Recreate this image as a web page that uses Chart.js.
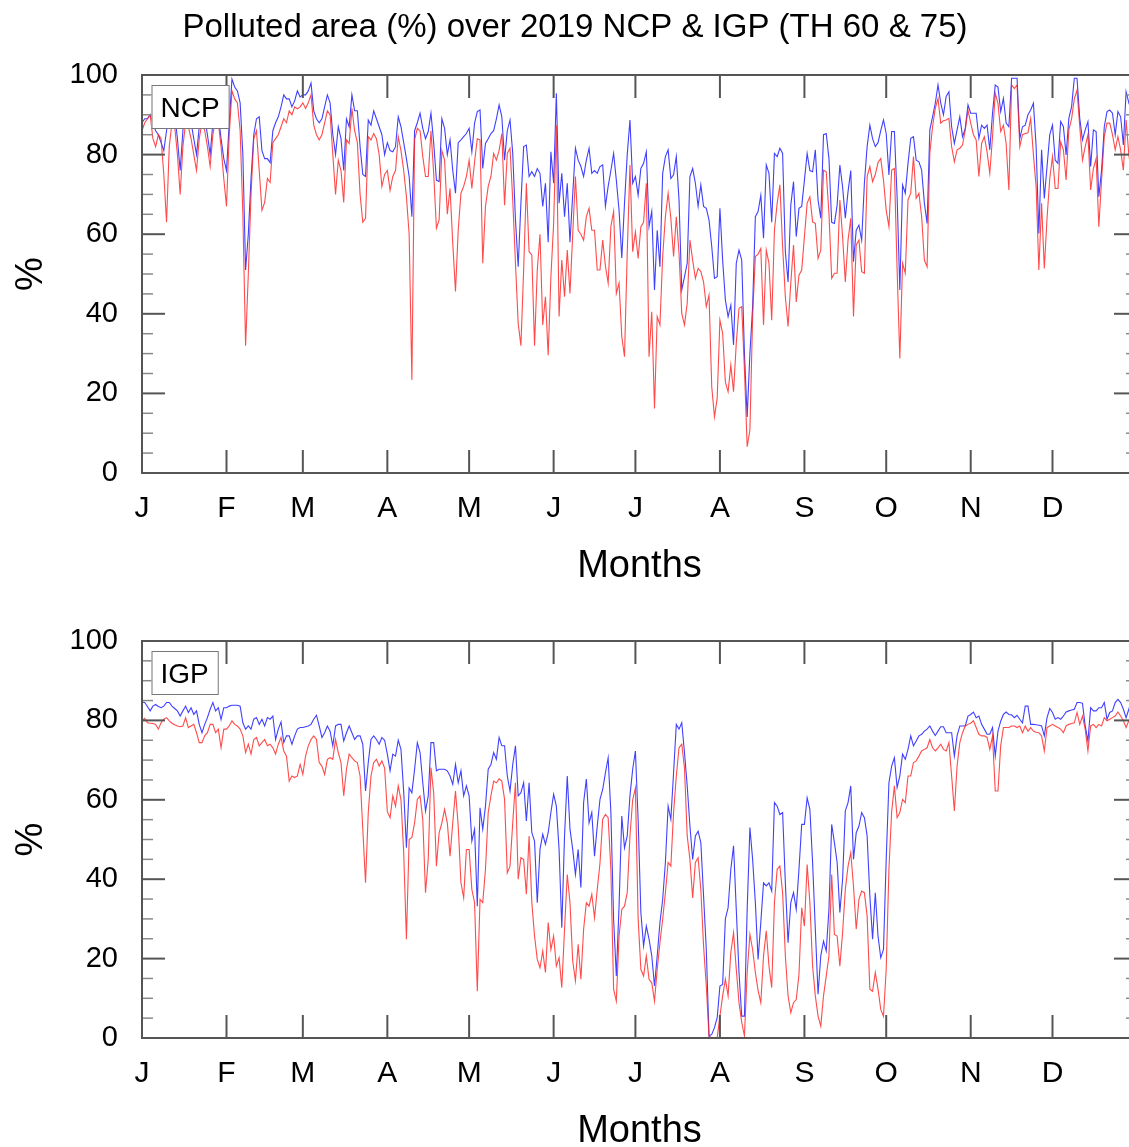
<!DOCTYPE html>
<html>
<head>
<meta charset="utf-8">
<title>Polluted area 2019 NCP & IGP</title>
<script src="https://cdn.jsdelivr.net/npm/chart.js@4.4.0/dist/chart.umd.min.js"></script>
<style>
  html, body { margin: 0; padding: 0; background: #fff; overflow: hidden; }
  #wrap { position: relative; width: 1129px; height: 1147px; overflow: hidden; }
  canvas { position: absolute; left: 0; }
  #ncpCanvas { top: 0; }
  #igpCanvas { top: 600px; }
</style>
</head>
<body>
<div id="wrap">
  <canvas id="ncpCanvas" width="1140" height="600"></canvas>
  <canvas id="igpCanvas" width="1140" height="547"></canvas>
</div>
<script>
// month ticks (day of year where each month starts) and their labels
const monthStarts = [0, 31, 59, 90, 120, 151, 181, 212, 243, 273, 304, 334];
const monthLabels = ['J', 'F', 'M', 'A', 'M', 'J', 'J', 'A', 'S', 'O', 'N', 'D'];
const yTicks = [0, 20, 40, 60, 80, 100];

// NCP, threshold 60 (blue), one value per day of 2019
const ncpTh60 = [
  88,89,89,90,88,86,85,83,81,86, 90,92,90,84,76,86,92,90,88,84,
  80,87,91,89,85,80,88,92,90,84, 79,76,88,99,97,96,93,80,51,60,
  74,85,89,89.5,81,79,79,78,86,88, 89.5,92,95,94,94,92,93.5,96,94.5,95,
  95,96,98,91,89,88,89,92,95,93, 85,80,87,84,76,89,87,95,91,91,
  82,75,74.5,88.7,87.4,91,89,87,85,80, 83,81,80.7,82,89.5,87,83,79,74.5,64.4,
  86,88,90.4,86.6,84,85.8,90.4,83,73.6,73.2, 89,86.6,80,83.7,76,70.3,83,83.7,84.5,85.3,
  86.6,80.7,87.9,90.8,91.2,76.5,82.8,84,85.3,86, 89,92.5,89.5,78.6,86,88.7,80.3,63.6,51.8,67.8,
  82,82.4,74.5,75.7,74.5,76.5,75.3,67,72.8,58, 80.7,72.8,95.4,67.8,75.3,64.4,72.8,58,70,81.6,
  78.6,77,74.5,78.6,81.6,75.3,76,75.3,77,77.4, 67,72,76,80.3,73.6,66,54,67.8,80,88.7,
  72.8,74.5,69.8,76.5,77.8,80.7,61.9,65.7,46,61, 51.8,75.3,79.5,81.2,74,74.9,79.5,68.6,46,49.3,
  52.7,74.5,76.5,72.8,67,72.4,67,66.5,63.6,56.9, 48.9,49.3,66.5,53.5,43.5,39.3,42.2,32.2,52.7,56,
  53.5,30,14.1,30,41.8,64.4,65.7,69.8,59,77.4, 75.3,63,80.3,79.5,81.6,80.3,55.6,48,67.3,73.2,
  59.4,66.5,67,73.6,80.3,76,75.7,81.2,68.6,64, 85,85.3,79,63,62.7,67.3,77.4,71.9,64,70.7,
  76,53.1,61,62.3,58.5,72.8,82,87.4,84,82, 83,86,88.7,85.3,74.9,85.8,85.8,69.4,46,72.4,
  70.3,77.8,84.1,84.5,78.6,78.2,76.1,67.8,62.7,86.2, 89.5,92.9,97.5,93,90,94.6,95.8,87,82.8,86.2,
  89.5,84.5,86.6,92.5,90.4,90.4,90.4,84.1,87.4,86.6, 87.4,81.2,90.4,97.5,97,90.8,94.1,87.9,87,99.2,
  99.2,99.2,84,87,87.4,90,91.2,92.9,82,60.2, 81.2,69,77,85,87.4,78.6,77.8,88.3,87,79.9,
  89.1,92,99.2,99.2,89.1,83.7,86.2,88.3,77,86.2, 85.8,69.4,76.1,87,90.8,91.2,90.4,85,90.8,89.5,
  82.4,95.8,93,95,94
];

// NCP, threshold 75 (red)
const ncpTh75 = [
  86,88,89,90,84,82,85,84,75,63, 82,88,87,80,70,82,88,87,84,80,
  76,84,88,86,82,77,85,89,88,82, 74,67,85,96,94,93,86,65,32,50,
  70,84,86,76,66,68,74,73,83,84, 85,87,89,88,91,90,92,91.5,92,93,
  91.6,93,95,87.4,85,83.7,85,88,91,90, 80,70,78.6,76,68,83.7,82.8,91.6,86,83,
  70,63,64,84.5,83.7,85.3,84,80,72,75, 76,71,74.5,76,84.5,81,76,69.4,60,23.4,
  83.7,86.6,86,79.5,74.5,74.5,86,75.3,61.5,63.6, 81,78.6,65,71.5,57.7,45.6,61,70.3,72,74.5,
  78.6,71.5,78.2,84,83.7,52.7,67,72,74.5,80.3, 78.6,81,85.3,67.3,80.3,81.6,68.6,52.7,37.6,32,
  51,72.8,55.6,54.8,32,51,60,37.2,44.3,29.6, 49.3,62.7,87.4,39.3,53.5,44.3,56,45.1,60,74.5,
  61,60,58.5,64.4,66.5,61,61,51,51,58.5, 52,47.7,61.9,65.7,45.1,47.7,34.3,29.2,55.2,77.4,
  55.6,60.6,53.9,61.9,63,72.8,29.2,40.5,16.2,39.3, 37.2,54.4,64.4,70.3,64,54.4,64.4,55.2,40.1,37.2,
  42.6,58.5,53.5,48.9,51.4,50.6,48,41.8,44.7,21.7, 14.1,18.8,38.4,35.1,22.9,20.4,27.1,20.4,32.6,41.4,
  41.8,25.9,6.6,10.8,39.3,54.4,55,56.4,37.2,56, 52.7,38.4,61,67.8,72.4,56.9,44.3,36.8,47.7,57.3,
  43,49.7,51,59.4,67.8,69.4,63.1,62.7,53.9,56, 76.1,75.7,65.2,48.9,50.2,50.2,68.6,59.4,48,58.5,
  64,39.3,57.3,58.5,50.6,50.2,74.5,77,73.2,75, 78,79,73.6,66,61.9,76.1,76.5,51,28.8,52.7,
  50.2,68.6,70.3,79.5,69,70.3,64.4,53.5,51.8,80.3, 87,91.6,94.1,87.9,88.5,88.7,89.1,82,78.2,81.2,
  81.6,82.4,86.2,91.2,87.9,85,83.7,74.5,82.8,84.5, 80.7,75.3,84.5,95.4,92.9,85.8,87.4,82.8,71.1,97.5,
  96.6,97.5,82,85,85.3,85.5,89.1,80,71.9,51, 67.8,51.4,64,74,79.5,71.5,71.5,83.2,81.2,73.6,
  86.2,89,94,96.2,87,78.6,82,85,71.1,76.5, 79,61.9,73.6,84.5,87.9,87.9,85,81.2,84.5,81.2,
  76.1,88.7,80,75,78
];

// IGP, threshold 60 (blue)
const igpTh60 = [
  84.6,84.5,83.5,82.4,83.6,84,83.5,83.2,83.6,84.5, 84.5,83.6,83,82.4,81.1,82.4,83.6,82,83.2,81.5,
  82.4,79,76.9,79,80.7,82.8,84.5,82.4,83.2,80.2, 83.2,83.2,83.6,83.8,83.8,83.8,83.6,79.4,77.8,78.6,
  77.8,80.3,80.7,79,80.3,78.6,80.7,80.3,81.1,75.2, 77.8,79.6,74.4,76.1,76.1,74,76.1,77.8,78.2,78.2,
  78.4,78.6,79,80.3,81.3,78.6,75.7,76.9,78.6,77.3, 73.6,78.6,79,79,74.8,76.9,78.6,76.9,75.2,76.1,
  76.1,74,62.2,69.4,75.2,76.1,75.2,74,75.7,75, 71.5,67.3,71.5,71,75,72.7,62,47.9,63,61.8,
  67.7,74.4,71.9,64.3,57.2,61,74.4,74.4,67.3,67.7, 67.7,67.7,67.3,66,63.9,68.9,64.3,67.3,61,63.5,
  61,49.6,52.6,33.2,58,52.6,58.4,67.7,68.9,71.9, 70.2,75.7,73.6,73.6,66,62.2,68.9,73.6,61,61.8,
  64.3,54.7,64.3,51.7,49.6,34.1,47.5,51.3,48.8,51.7, 56.8,61.4,58.4,47.5,27.8,50.9,66,52.6,47.5,41.2,
  47.5,37.9,59.3,65.2,54.2,56.8,45.8,53.4,60.1,62.6, 66.8,70.6,56.8,29.9,15.6,33.2,55.9,47.9,50.9,61,
  67.7,72.3,55,31.6,23.2,28.2,24.9,20.7,13.1,20.7, 29.1,34.9,44.2,58.4,55.1,66.8,79,77.8,79.4,71.9,
  63.5,53.4,45,50.9,52.1,49.2,35.8,22.3,0.5,0.9, 2.6,5.1,13.1,13.5,30,32.8,42.5,48.4,32.4,16.5,
  5.5,5.5,32.4,53,45,34.1,19.8,29.1,39.1,38.3, 39.1,37,59.3,58.4,56.3,56.8,39.1,24,34.1,36.6,
  32.4,42.5,53.8,53.8,60.5,57.6,44.2,27.4,11,20.7, 24.4,21.9,32.4,53.8,49.2,44.2,31.6,40,57.2,59.3,
  63.5,45,51.7,53.4,56.8,55.5,50.9,35.8,24.9,36.6, 25.7,20.2,22.3,45,64.3,68.5,70.6,63.1,66,71.5,
  70.2,72.7,76.1,73.6,74.8,76.1,76.5,77.3,77.8,78.6, 77.3,76.2,77.3,78.4,78.4,76.9,76.9,76.9,71,76.1,
  78.6,78.6,78.6,81.1,81.5,82.1,80.7,81.1,79,77.8, 76.5,76.5,78.2,71,77.3,79.8,81.5,82.1,81.5,81.4,
  80.7,81.3,80.3,79.4,83.6,83.6,79,79,78.9,78.8, 78.6,76.1,80.7,83,82,80.3,80.7,80.3,81.1,82.1,
  82.4,82.6,82.8,84.5,84.5,84.3,78.6,74.8,83.2,82.4, 82.4,83.2,83.2,84.5,80.3,82,82.4,84.5,85.3,84.5,
  82.8,80.7,82.8,85,84
];

// IGP, threshold 75 (red)
const igpTh75 = [
  79.9,80.5,79.4,79.3,79.2,79,77.8,79.4,80.3,80.7, 79.9,79.3,78.9,78.6,78.4,78.6,80.7,78.2,78.6,79,
  76.9,74.4,74.4,76.1,76.9,79,79,76.9,77.8,73.1, 77.8,77.8,78.6,79.9,79,78.6,77.8,76.1,71.9,74,
  71.5,75.2,75.7,73.6,74.4,75.2,73.6,74,73.1,71.5, 74,75.7,72.3,71,64.7,66,65.6,66,68.9,66.4,
  71,73.6,75.2,76.1,75.2,69.4,68.5,66.4,70.2,70.6, 70.2,75.2,71.9,69.4,61,67.7,71.5,70.6,69.8,69.4,
  66,52.6,39.1,56.8,66,69.4,70.2,68.5,69.8,68, 57,55.5,61,58.4,63.5,60,46.7,24.9,50,50.5,
  54.2,60.1,61,55,36.6,45,68.1,61.8,43.3,51.7, 54.2,57.6,54.2,45.8,54.2,62.2,53.4,39.1,35.3,47.5,
  47.5,37.4,34.1,11.8,34.9,34.1,42.5,56.8,61,64.7, 64.3,65.3,64.7,60.1,41.6,43.3,54.2,64.3,40,45.4,
  45,36.2,50.9,34.1,25.7,19.8,17.7,21.9,16.5,29.1, 22.3,25.7,18.1,20.2,12.7,27.4,41.2,34.1,19.4,14.4,
  23.6,14.8,27.4,34.1,33.2,36.2,30.3,37.4,44,55.1, 56.3,55.5,42.5,12.3,9.3,25.7,32.4,33.2,36.6,50.9,
  60,63,30,17.3,15.6,20.7,14.8,13.9,9.3,17.3, 24,29.9,36.6,44.2,43.3,56.8,66,73.1,74,68,
  50.9,45,35.3,44.2,45.4,37.4,23.2,13.1,0.5,0.1, 0.1,0.1,5.5,10.6,14.8,10.6,21.5,26.5,17.3,8.9,
  3.9,0.5,16.5,26.1,22.3,16.5,12,8.9,20.7,27, 18.1,12.7,34.1,42.5,43.3,36.6,20.7,10.6,6.4,8.9,
  9.7,16,32.8,28.2,43.7,34.1,18.1,10.6,5.5,3, 10.6,15.6,20.7,41.2,26.1,25.7,18.1,26.5,37.4,43.3,
  46.7,38.3,27.4,34.9,37,36.6,30.7,12.3,11.8,16.5, 12.3,7.2,5.5,17.3,42.5,57,63.5,55.5,56.8,60.1,
  59.3,66,66,69.4,69.8,71,72.3,72.7,73.1,75.2, 73.1,72.3,73.1,74,72.7,72.3,74.4,66,57.2,68.5,
  74.4,76.9,78.6,79,79.3,79.9,78.2,76.5,76.1,76.1, 75.7,72.7,76.1,62.2,62.2,73.6,78.2,78.2,78.2,78.6,
  78.6,78.2,78.6,76.9,78.6,77.3,78.2,77.3,77,76.9, 76.1,72.3,78.2,78.6,79,78.6,78.2,77.8,76.9,78.6,
  79,79.2,79.4,82,79,81.1,77.8,72.3,78.6,79, 78.2,79,78.6,80.7,79.9,80.3,80.7,81.1,82.1,81.1,
  79.9,78.2,79.9,81,80
];

const FONT = "'Liberation Sans', Arial, Helvetica, sans-serif";
const AXIS_GRAY = '#555555';
const MINOR_GRAY = '#8a8a8a';

// NCL-style frame: box border, inward month ticks, inward y ticks (major + minor), region label box
const frameTicks = {
  id: 'frameTicks',
  afterDatasetsDraw(chart, args, opts) {
    const { ctx, chartArea: a, scales: { x, y } } = chart;
    const seg = (x1, y1, x2, y2) => { ctx.beginPath(); ctx.moveTo(x1, y1); ctx.lineTo(x2, y2); ctx.stroke(); };
    ctx.save();

    ctx.lineWidth = 1.5;
    ctx.strokeStyle = MINOR_GRAY;
    for (let v = 5; v < 100; v += 5) {
      if (v % 20 === 0) continue;
      const py = y.getPixelForValue(v);
      seg(a.left, py, a.left + 11, py);
      seg(a.right - 11, py, a.right, py);
    }

    ctx.lineWidth = 2;
    ctx.strokeStyle = AXIS_GRAY;
    yTicks.forEach(v => {
      const py = y.getPixelForValue(v);
      seg(a.left, py, a.left + 23, py);
      seg(a.right - 23, py, a.right, py);
    });
    monthStarts.forEach(d => {
      const px = x.getPixelForValue(d);
      seg(px, a.bottom, px, a.bottom - 23);
      seg(px, a.top, px, a.top + 23);
    });
    ctx.strokeRect(a.left, a.top, a.right - a.left, a.bottom - a.top);

    // region label
    ctx.font = '28px ' + FONT;
    const w = ctx.measureText(opts.text).width + 18;
    const bx = a.left + 9.5, by = a.top + 10;
    ctx.fillStyle = '#ffffff';
    ctx.fillRect(bx, by, w, 43);
    ctx.lineWidth = 1;
    ctx.strokeStyle = '#777777';
    ctx.strokeRect(bx + 0.5, by + 0.5, w, 43);
    ctx.fillStyle = '#000000';
    ctx.textBaseline = 'alphabetic';
    ctx.textAlign = 'left';
    ctx.fillText(opts.text, bx + 9, by + 32);
    ctx.restore();
  }
};

function makePanel(canvasId, region, th60, th75, opts) {
  const ctx = document.getElementById(canvasId).getContext('2d');
  return new Chart(ctx, {
    type: 'line',
    data: {
      datasets: [
        {
          label: 'TH 60',
          data: th60.map((v, i) => ({ x: i, y: v })),
          borderColor: 'rgba(30, 30, 255, 0.85)',
          borderWidth: 1.1,
          pointRadius: 0,
          tension: 0,
          order: 2
        },
        {
          label: 'TH 75',
          data: th75.map((v, i) => ({ x: i, y: v })),
          borderColor: 'rgba(255, 30, 30, 0.8)',
          borderWidth: 1.1,
          pointRadius: 0,
          tension: 0,
          order: 1
        }
      ]
    },
    plugins: [frameTicks],
    options: {
      responsive: false,
      animation: false,
      events: [],
      parsing: false,
      // left padding keeps the title centred like the reference; y axis width makes up the rest
      layout: { padding: { left: 13, right: 3, top: opts.padTop, bottom: 0 } },
      scales: {
        x: {
          type: 'linear',
          min: 0,
          max: 365,
          grid: { display: false },
          border: { display: false },
          afterBuildTicks: s => { s.ticks = monthStarts.map(v => ({ value: v })); },
          afterFit: s => { s.height = opts.xHeight; },
          ticks: {
            autoSkip: false,
            maxRotation: 0,
            padding: 10,
            color: '#000',
            font: { family: FONT, size: 30 },
            callback: v => monthLabels[monthStarts.indexOf(v)]
          },
          title: {
            display: true,
            text: 'Months',
            color: '#000',
            font: { family: FONT, size: 38, lineHeight: 1 },
            padding: { top: 0, bottom: opts.monthsPad }
          }
        },
        y: {
          min: 0,
          max: 100,
          grid: { display: false },
          border: { display: false },
          afterFit: s => { s.width = 129; },
          ticks: {
            stepSize: 20,
            padding: 16,
            color: '#000',
            font: { family: FONT, size: 29 }
          },
          title: {
            display: true,
            text: '%',
            color: '#000',
            font: { family: FONT, size: 38, lineHeight: 1 },
            padding: { top: 0, bottom: 0 }
          }
        }
      },
      plugins: {
        legend: { display: false },
        tooltip: { enabled: false },
        frameTicks: { text: region },
        title: opts.title ? {
          display: true,
          text: opts.title,
          color: '#000',
          font: { family: FONT, size: 33, weight: 'normal', lineHeight: 1.2 },
          padding: { top: 7.7, bottom: 27.7 }
        } : { display: false }
      }
    }
  });
}

try {
  makePanel('ncpCanvas', 'NCP', ncpTh60, ncpTh75, {
    padTop: 0, xHeight: 127, monthsPad: 14.5,
    title: 'Polluted area (%) over 2019 NCP & IGP (TH 60 & 75)'
  });
  makePanel('igpCanvas', 'IGP', igpTh60, igpTh75, {
    padTop: 41, xHeight: 109, monthsPad: -4, title: null
  });
} catch (err) {
  console.error('Error drawing polluted area charts:', err);
}
</script>
</body>
</html>
